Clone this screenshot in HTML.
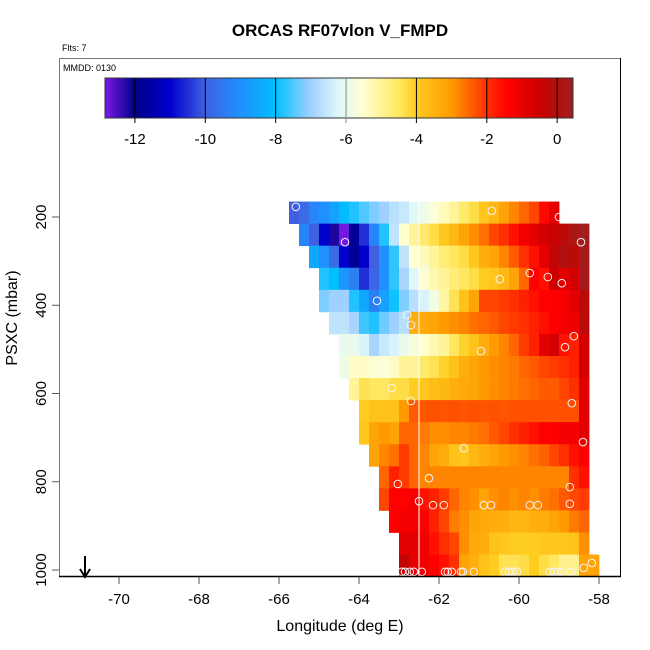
<!DOCTYPE html>
<html><head><meta charset="utf-8"><style>
body{margin:0;background:#fff;}
svg{display:block;font-family:"Liberation Sans",sans-serif;}
</style></head><body>
<svg id="chart" width="650" height="650" viewBox="0 0 650 650">
<text x="340" y="36" text-anchor="middle" font-size="17" font-weight="bold">ORCAS RF07vlon V_FMPD</text>
<text x="62" y="51" font-size="9">Flts: 7</text>
<g id="heat"></g>
<g id="circles"></g>
<g id="cbar"></g>
<rect x="59.5" y="58.5" width="561" height="518" fill="none" stroke="#777" stroke-width="1"/>
<line x1="59" y1="576.5" x2="621" y2="576.5" stroke="#000" stroke-width="1.5"/>
<line x1="620.5" y1="58" x2="620.5" y2="577" stroke="#000" stroke-width="1"/>
<text x="63" y="71" font-size="9">MMDD: 0130</text>
<g id="xaxis"></g>
<g id="yaxis"></g>
<text x="340" y="631" text-anchor="middle" font-size="16">Longitude (deg E)</text>
<text transform="translate(17,318) rotate(-90)" text-anchor="middle" font-size="16">PSXC (mbar)</text>
<g>
<line x1="85" y1="556" x2="85" y2="576" stroke="#000" stroke-width="2"/>
<path d="M80,569 L85,577 L90,569" fill="none" stroke="#000" stroke-width="2"/>
</g>
</svg>
<script>
// ---- data ----
const xTicks = [-70, -68, -66, -64, -62, -60, -58];
const yTicks = [200, 400, 600, 800, 1000];
const cbarTicks = [-12, -10, -8, -6, -4, -2, 0];
const cellLonWidth = 0.25;
const cellPresHeight = 50;
const firstLon = -65.75;
const firstPres = 165;
const rowStartCol = [0,1,2,3,3,4,5,5,6,7,7,8,9,9,10,11,11];
const row0 = [-10,-9.8,-9.2,-9,-8.6,-8.1,-7.8,-7.5,-7.2,-7,-6.7,-6.5,-6.2,-5.9,-5.6,-5.3,-5,-4.6,-4.3,-3.9,-3.6,-3.2,-2.8,-2.5,-2.2,-1.5,-0.9];
const row1 = [-9.2,-10,-11,-12.2,-12.8,-11.8,-10.5,-9.2,-7.8,-6.6,-5.5,-5,-4.6,-4.3,-3.9,-3.6,-3.2,-2.9,-2.6,-2.2,-2,-1.6,-1.2,-0.9,-0.6,-0.4,-0.2,0.2,0.4];
const row2 = [-8.5,-9,-9.8,-11,-11.8,-11,-10,-9,-7.7,-6.6,-5.5,-5.3,-5,-4.7,-4.5,-4.3,-3.9,-3.4,-3.2,-2.8,-2.4,-2,-1.6,-0.9,-0.3,0,-0.2,0.3];
const row3 = [-7.8,-8,-8.9,-9.4,-10.5,-9.9,-9,-7.7,-6.9,-6.2,-5.5,-5.2,-5,-4.7,-4.5,-4.3,-4,-3.9,-3.6,-3.2,-2.5,-1.4,-1.6,-0.5,-0.9,-0.6,0.3];
const row4 = [-7.2,-7,-7,-7.8,-8.5,-9.4,-8.6,-7.9,-7.2,-6.7,-6.3,-5.8,-5.1,-4.4,-3.8,-3.2,-2.2,-2.2,-2.1,-2,-1.8,-1.6,-1.4,-1.4,-1.2,-0.9,-0.2];
const row5 = [-6.6,-6.6,-6.9,-7.6,-7.8,-7.3,-7,-6.7,-3.4,-3.3,-3.2,-3,-2.9,-2.8,-2.6,-2.5,-2.4,-2.2,-2.1,-2,-1.8,-1.6,-1.4,-1.2,-1.1,-0.2];
const row6 = [-6,-6,-6.3,-6.9,-6.5,-6.3,-6,-5.7,-5.5,-5.2,-5,-4.5,-4.1,-3.8,-3.4,-3,-2.8,-2.5,-2.1,-1.8,-0.9,-0.6,-1.6,-1.8,-0.6];
const row7 = [-5.9,-5.4,-5.4,-5.6,-5.6,-5.4,-5,-5,-4.6,-4.4,-4.1,-3.8,-3.4,-3.2,-3,-2.9,-2.8,-2.7,-2.5,-2.4,-2.2,-2.1,-2,-1.8,-0.6];
const row8 = [-5,-4.4,-4.5,-4.5,-4.3,-4.3,-4,-3.9,-3.7,-3.6,-3.4,-3.3,-3.2,-3,-2.9,-2.8,-2.7,-2.6,-2.5,-2.4,-2.4,-2.2,-2,-0.9];
const row9 = [-4,-3.8,-3.8,-3.8,-3,-2.4,-2.35,-2.3,-2.35,-2.3,-2.35,-2.3,-2.35,-2.3,-2.35,-2.3,-2.3,-2.3,-2.3,-2.3,-2.3,-2.3,-0.9];
const row10 = [-3.9,-3.2,-3,-3.2,-2.5,-2.5,-2.7,-2.9,-2.9,-2.8,-2.8,-2.7,-2.6,-2.4,-2.2,-2,-1.8,-1.6,-1.4,-1.4,-1.2,-1.2,-0.9];
const row11 = [-3.2,-2.8,-2.6,-2.1,-2.5,-2.8,-3.2,-3.4,-3.8,-3.9,-3.6,-3.4,-3.2,-3,-2.9,-2.8,-2.6,-2.45,-2.2,-2,-1.6,-1.4];
const row12 = [-2.5,-1.8,-2.1,-2.5,-2.8,-2.8,-2.8,-2.8,-2.8,-2.8,-2.8,-2.8,-2.8,-2.8,-2.8,-2.8,-2.8,-2.8,-2.8,-2,-1.6];
const row13 = [-2.2,-1.4,-1.4,-1.2,-1.6,-1.8,-2.1,-2.5,-2.8,-2.9,-3.2,-2.9,-2.8,-2.9,-2.8,-2.9,-2.7,-2.6,-2.4,-2.2,-2.1];
const row14 = [-1.4,-1.2,-1.2,-1.4,-1.8,-2.2,-2.7,-2.9,-3.2,-3.3,-3.4,-3.4,-3.6,-3.6,-3.4,-3.4,-3.2,-3,-2.7,-2.5];
const row15 = [-0.9,-0.9,-1.2,-1.6,-2,-2.2,-2.9,-3.3,-3.4,-3.8,-3.9,-4,-4,-4,-3.9,-3.9,-3.9,-3.8,-2.9];
const row16 = [-0.4,-0.9,-1.2,-1.4,-1.6,-2,-3.2,-3.4,-3.8,-4,-4.4,-4.4,-4.3,-4,-4.3,-4.5,-4.9,-4.9,-3.2,-3.2];
const rows = [row0,row1,row2,row3,row4,row5,row6,row7,row8,row9,row10,row11,row12,row13,row14,row15,row16];
const ptLon = [-65.58,-60.68,-59.0,-64.35,-58.45,-62.35,-59.73,-60.48,-59.28,-58.93,-63.55,-62.8,-62.7,-58.63,-58.85,-60.95,-63.18,-62.7,-58.68,-58.4,-61.38,-63.03,-62.25,-58.73,-62.5,-62.15,-61.88,-60.88,-60.7,-59.73,-59.53,-58.73,
 -62.93,-62.85,-62.73,-62.63,-62.43,-61.85,-61.78,-61.68,-61.45,-61.4,-61.13,-60.35,-60.25,-60.15,-60.05,-59.23,-59.13,-59.03,-58.93,-58.7,-58.38,-58.18];
const ptPres = [177,186,200,257,257,316,327,341,336,350,390,422,445,470,495,504,588,617,622,710,724,805,792,812,844,853,853,853,853,853,853,850,
 1004,1004,1004,1004,1004,1004,1004,1004,1004,1004,1004,1004,1004,1004,1004,1004,1004,1004,1004,1004,995,984];
const whiteLineLon = -62.5;

// ---- scales ----
const xS = lon => 119 + (lon + 70) * 40;
const yS = p => 217 + (p - 200) * 0.44125;
const cbMin = -12.85, cbMax = 0.45;
const cbX = v => 105 + (v - cbMin) / (cbMax - cbMin) * 468;
const stops = [
 [-12.85,[122,26,230]],[-12,[0,0,136]],[-11,[0,0,204]],[-10,[64,96,224]],[-9,[32,144,255]],
 [-8,[0,191,255]],[-7,[160,208,255]],[-6.2,[224,248,248]],[-5.5,[255,255,208]],[-4.5,[255,232,96]],
 [-4,[255,204,32]],[-3,[255,154,0]],[-2,[255,48,0]],[-1.4,[255,0,0]],[-0.5,[204,0,0]],[0,[176,16,16]],[0.45,[160,32,32]]];
function col(v){
  if(v<=stops[0][0]) return 'rgb('+stops[0][1]+')';
  for(let i=1;i<stops.length;i++){
    if(v<=stops[i][0]){
      const a=stops[i-1],b=stops[i],t=(v-a[0])/(b[0]-a[0]);
      return 'rgb('+a[1].map((c,k)=>Math.round(c+(b[1][k]-c)*t)).join(',')+')';
    }
  }
  return 'rgb('+stops[stops.length-1][1]+')';
}
const NS='http://www.w3.org/2000/svg';
function mk(tag,attrs,parent){const e=document.createElementNS(NS,tag);for(const k in attrs)e.setAttribute(k,attrs[k]);parent.appendChild(e);return e;}

// ---- heatmap ----
const heat=document.getElementById('heat');
rows.forEach((vals,r)=>{
  const pTop=firstPres+r*cellPresHeight;
  vals.forEach((v,i)=>{
    const lon=firstLon+(rowStartCol[r]+i)*cellLonWidth;
    const x0=xS(lon),x1=xS(lon+cellLonWidth),y0=yS(pTop),y1=yS(pTop+cellPresHeight);
    const c=mk('rect',{x:x0,y:y0,width:x1-x0+0.4,height:y1-y0+0.4,fill:col(v)},heat);
    
    
  });
});
const wl=mk('line',{x1:xS(whiteLineLon),x2:xS(whiteLineLon),y1:yS(firstPres),y2:yS(firstPres+17*cellPresHeight),stroke:'#fff','stroke-width':1},heat);



// ---- points ----
const cg=document.getElementById('circles');
ptLon.forEach((lon,i)=>{
  const c=mk('circle',{cx:xS(lon),cy:yS(ptPres[i]),r:3.8,fill:'none',stroke:'#f4f4f4','stroke-width':1},cg);
  
  
});

// ---- colorbar ----
const cb=document.getElementById('cbar');
const N=200;
for(let i=0;i<N;i++){
  const v0=cbMin+(cbMax-cbMin)*i/N, v1=cbMin+(cbMax-cbMin)*(i+1)/N;
  const s=mk('rect',{x:cbX(v0),y:78,width:cbX(v1)-cbX(v0)+0.5,height:40,fill:col((v0+v1)/2)},cb);
  
  
}
const cbf=mk('rect',{x:105,y:78,width:468,height:40,fill:'none',stroke:'#333','stroke-width':1},cb);


cbarTicks.forEach(t=>{
  const x=cbX(t);
  const l=mk('line',{x1:x,x2:x,y1:78,y2:123,stroke:t===-6?'#888':'#000','stroke-width':1},cb);
  
  
  const tx=mk('text',{x:x,y:144,'text-anchor':'middle','font-size':15},cb);
  tx.textContent=t;
  
  
});

// ---- axes ----
const xa=document.getElementById('xaxis');
xTicks.forEach(t=>{
  const x=xS(t);
  const l=mk('line',{x1:x,x2:x,y1:577,y2:584,stroke:'#555'},xa);
  
  
  const tx=mk('text',{x:x,y:604,'text-anchor':'middle','font-size':15},xa);
  tx.textContent=t;
  
  
});
const ya=document.getElementById('yaxis');
yTicks.forEach(t=>{
  const y=yS(t);
  const l=mk('line',{x1:52,x2:59,y1:y,y2:y,stroke:'#555'},ya);
  
  
  const tx=mk('text',{transform:'translate(46,'+y+') rotate(-90)','text-anchor':'middle','font-size':15},ya);
  tx.textContent=t;
  
  
});
</script>
</body></html>
